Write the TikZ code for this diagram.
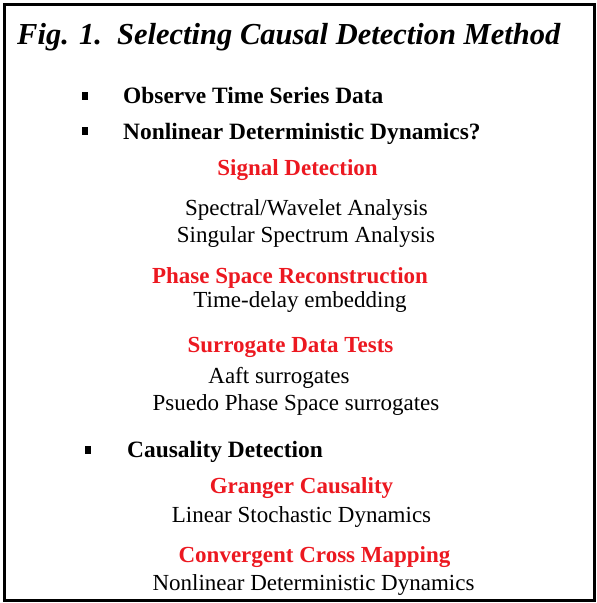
\documentclass[tikz,border=0pt]{standalone}
\usepackage{fontspec}
\setmainfont{Liberation Serif}
\usepackage{tikz}
\usetikzlibrary{positioning}

\definecolor{headred}{RGB}{236,24,32}

\tikzset{
  txt/.style={inner sep=0pt, anchor=base, font=\fontsize{23}{27}\selectfont},
  head/.style={txt, text=headred, font=\fontsize{23}{27}\selectfont\bfseries},
  item/.style={inner sep=0pt, anchor=base west, font=\fontsize{23.4}{27}\selectfont\bfseries},
  bullet/.style={fill=black, minimum width=6.5pt, minimum height=7.5pt, inner sep=0pt},
}

\begin{document}
\begin{tikzpicture}[x=1pt, y=-1pt]
			\useasboundingbox (0,0) rectangle (597,603);
			\draw[line width=3pt] (4,4) rectangle (594,600);

			% title
			\node[inner sep=0pt, anchor=base west, font=\fontsize{30.5}{34}\selectfont\bfseries\itshape](title) at (17,44){Fig. 1.\ \ Selecting Causal Detection Method};

			% first two steps
			\node[bullet](b1) at (85,96){};
			\node[item](obs) at (123,103){Observe Time Series Data};
			\node[bullet](b2) at (85,131){};
			\node[item](nld) at (123,139){Nonlinear Deterministic Dynamics?};

			\node[head](sig) at (297.5,175){Signal Detection};
			\node[txt](spec) at (306.5,215){Spectral/Wavelet Analysis};
			\node[txt](ssa) at (306,242){Singular Spectrum Analysis};

			\node[head](psr) at (290,283){Phase Space Reconstruction};
			\node[txt](tde) at (300,307){Time-delay embedding};

			\node[head](surr) at (290.5,352){Surrogate Data Tests};
			\node[txt](aaft) at (279,383){Aaft surrogates};
			\node[txt](pps) at (296,410){Psuedo Phase Space surrogates};

			% causality
			\node[bullet](b3) at (88,450){};
			\node[item](caus) at (127,457){Causality Detection};

			\node[head](gc) at (301.5,493){Granger Causality};
			\node[txt](lsd) at (301.5,522){Linear Stochastic Dynamics};

			\node[head](ccm) at (314.5,562){Convergent Cross Mapping};
			\node[txt](ndd) at (313.5,590){Nonlinear Deterministic Dynamics};
		\end{tikzpicture}
\end{document}
